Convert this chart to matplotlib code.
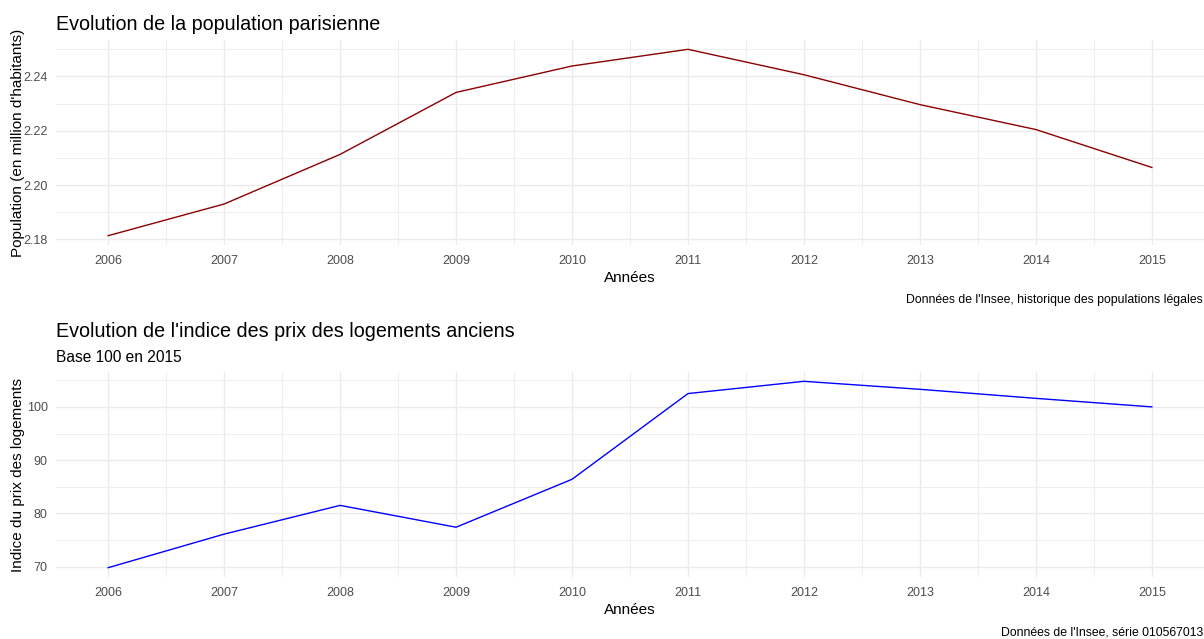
import matplotlib
matplotlib.use("Agg")
import matplotlib.pyplot as plt
from matplotlib.ticker import MultipleLocator

plt.rcParams['font.family'] = ['Liberation Sans', 'DejaVu Sans']

years = [2006, 2007, 2008, 2009, 2010, 2011, 2012, 2013, 2014, 2015]
population = [2.181371, 2.193030, 2.211297, 2.234105, 2.243833,
              2.249975, 2.240621, 2.229621, 2.220445, 2.206488]
price_index = [69.8, 76.1, 81.5, 77.4, 86.4, 102.5, 104.8, 103.3, 101.6, 100.0]

W, H = 1204, 639
fig = plt.figure(figsize=(W / 100, H / 100), dpi=100)

def axes_px(left, top, right, bottom):
    return fig.add_axes([left / W, 1 - bottom / H, (right - left) / W, (bottom - top) / H])

ax1 = axes_px(56, 40, 1204, 245)
ax2 = axes_px(56, 372, 1204, 577)

def style(ax, ymajor, yminor, fmt):
    for s in ax.spines.values():
        s.set_visible(False)
    ax.set_xticks(years)
    ax.set_xticklabels([str(y) for y in years])
    ax.xaxis.set_minor_locator(MultipleLocator(0.5))
    ax.yaxis.set_major_locator(MultipleLocator(ymajor))
    ax.yaxis.set_minor_locator(MultipleLocator(yminor))
    ax.yaxis.set_major_formatter(fmt)
    ax.grid(True, which='major', color='#EBEBEB', linewidth=1.0)
    ax.grid(True, which='minor', color='#EFEFEF', linewidth=0.8)
    ax.set_axisbelow(True)
    ax.tick_params(which='both', length=0)
    ax.tick_params(axis='x', pad=7, labelsize=9, labelcolor='#4D4D4D')
    ax.tick_params(axis='y', pad=6, labelsize=9, labelcolor='#4D4D4D')

ax1.plot(years, population, color='#8B0000', linewidth=1.0)
style(ax1, 0.02, 0.01, lambda v, p: f"{v:.2f}")
ax1.margins(x=0.05, y=0.05)

ax2.plot(years, price_index, color='#0000FF', linewidth=1.0)
style(ax2, 10, 5, lambda v, p: f"{v:.0f}")
ax2.margins(x=0.05, y=0.05)

# Labels
ax1.set_xlabel("Années", fontsize=11, va='center')
ax1.xaxis.set_label_coords(0.5, -(278 - 245) / 205)
ax1.set_ylabel("Population (en million d'habitants)", fontsize=11, va='center')
ax1.yaxis.set_label_coords((18 - 56) / 1148, 0.5)

ax2.set_xlabel("Années", fontsize=11, va='center')
ax2.xaxis.set_label_coords(0.5, -(610 - 577) / 205)
ax2.set_ylabel("Indice du prix des logements", fontsize=11, va='center')
ax2.yaxis.set_label_coords((18 - 56) / 1148, 0.5)

# Titles
fig.text(56 / W, 1 - 24 / H, "Evolution de la population parisienne",
         fontsize=14.2, ha='left', va='center')
fig.text(56 / W, 1 - 332 / H, "Evolution de l'indice des prix des logements anciens",
         fontsize=14.2, ha='left', va='center')
fig.text(56 / W, 1 - 357 / H, "Base 100 en 2015",
         fontsize=11.2, ha='left', va='center')

# Captions
fig.text(1203 / W, 1 - 300 / H, "Données de l'Insee, historique des populations légales",
         fontsize=8.8, ha='right', va='center')
fig.text(1203 / W, 1 - 632.5 / H, "Données de l'Insee, série 010567013",
         fontsize=8.8, ha='right', va='center')

fig.savefig("out.png", dpi=100, facecolor='white')
